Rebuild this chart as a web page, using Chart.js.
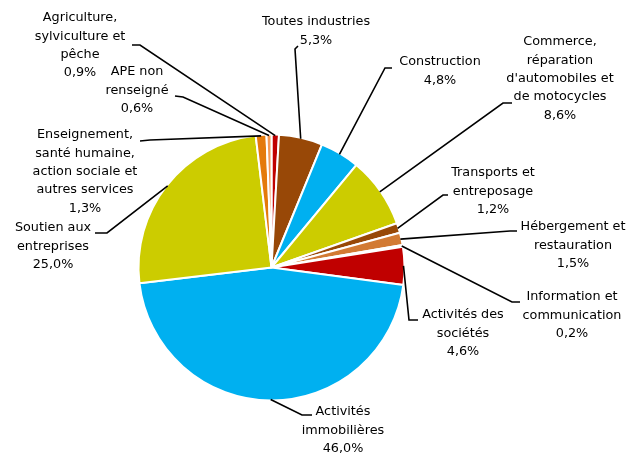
<!DOCTYPE html>
<html>
<head>
<meta charset="utf-8">
<script src="https://cdn.jsdelivr.net/npm/chart.js@4.4.1/dist/chart.umd.min.js"></script>
<style>
  body { margin: 0; background: #fff; }
  #wrap { width: 643px; height: 461px; }
</style>
</head>
<body>
<div id="wrap"><canvas id="pie" width="643" height="461"></canvas></div>
<script>
// secteurs, dans l'ordre du camembert (sens horaire depuis midi)
const categories = [
  "Agriculture, sylviculture et pêche",
  "Toutes industries",
  "Construction",
  "Commerce, réparation d'automobiles et de motocycles",
  "Transports et entreposage",
  "Hébergement et restauration",
  "Information et communication",
  "Activités des sociétés",
  "Activités immobilières",
  "Soutien aux entreprises",
  "Enseignement, santé humaine, action sociale et autres services",
  "APE non renseigné"
];
const shares = [0.9, 5.3, 4.8, 8.6, 1.2, 1.5, 0.2, 4.6, 46.0, 25.0, 1.3, 0.6];

// textes des étiquettes (coupés comme sur l'original)
const labelLines = [
  ["Agriculture,", "sylviculture et", "pêche"],
  ["Toutes industries"],
  ["Construction"],
  ["Commerce,", "réparation", "d'automobiles et", "de motocycles"],
  ["Transports et", "entreposage"],
  ["Hébergement et", "restauration"],
  ["Information et", "communication"],
  ["Activités des", "sociétés"],
  ["Activités", "immobilières"],
  ["Soutien aux", "entreprises"],
  ["Enseignement,", "santé humaine,", "action sociale et", "autres services"],
  ["APE non", "renseigné"]
];

const colors = [
  "#C00000", "#984807", "#00B0F0", "#CCCC00", "#984807", "#D27A33",
  "#F2DCDB", "#C00000", "#00B0F0", "#CCCC00", "#E47A0B", "#F59A56"
];

// placement des étiquettes : centre x, y de la 1re ligne, coudes du trait
const labelPos = [
  { x: 80,  y: 18,  path: [[140, 45], [132, 45]] },
  { x: 316, y: 22,  path: [[295, 49], [298, 46]] },
  { x: 440, y: 62,  path: [[385, 68], [392, 68]] },
  { x: 560, y: 42,  path: [[503, 103], [512, 103]] },
  { x: 493, y: 173, path: [[443, 195], [448, 195]] },
  { x: 573, y: 227, path: [[510, 231], [517, 231]] },
  { x: 572, y: 297, path: [[512, 302], [520, 302]] },
  { x: 463, y: 315, path: [[409, 320], [418, 320]] },
  { x: 343, y: 412, path: [[302, 415], [312, 415]] },
  { x: 53,  y: 228, path: [[107, 233], [95, 233]] },
  { x: 85,  y: 135, path: [[150, 140], [140, 141]] },
  { x: 137, y: 72,  path: [[183, 97], [175, 96]] }
];
const lineH = 18.3;

function fmt(v) {
  return v.toFixed(1).replace(".", ",") + "%";
}

const labelPlugin = {
  id: "pieLabels",
  afterDraw(chart) {
    const ctx = chart.ctx;
    const arcs = chart.getDatasetMeta(0).data;
    ctx.save();
    // traits de rappel
    ctx.strokeStyle = "#000";
    ctx.lineWidth = 1.6;
    arcs.forEach((arc, i) => {
      const p = arc.getProps(["x", "y", "startAngle", "endAngle", "outerRadius"], true);
      const mid = (p.startAngle + p.endAngle) / 2;
      const r = p.outerRadius - 1;
      ctx.beginPath();
      ctx.moveTo(p.x + Math.cos(mid) * r, p.y + Math.sin(mid) * r);
      labelPos[i].path.forEach((pt) => ctx.lineTo(pt[0], pt[1]));
      ctx.stroke();
    });
    // textes
    ctx.fillStyle = "#000";
    ctx.font = "12.8px 'DejaVu Sans'";
    ctx.textAlign = "center";
    ctx.textBaseline = "middle";
    labelLines.forEach((lines, i) => {
      const all = lines.concat([fmt(shares[i])]);
      all.forEach((t, k) => {
        ctx.fillText(t, labelPos[i].x, labelPos[i].y + k * lineH);
      });
    });
    ctx.restore();
  }
};

new Chart(document.getElementById("pie"), {
  type: "pie",
  data: {
    labels: categories,
    datasets: [
      {
        data: shares,
        backgroundColor: colors,
        borderColor: "#ffffff",
        borderWidth: 2
      }
    ]
  },
  options: {
    responsive: false,
    animation: false,
    radius: 133,
    layout: { padding: { left: 139, right: 239, top: 135, bottom: 61 } },
    plugins: {
      legend: { display: false },
      tooltip: { enabled: false }
    }
  },
  plugins: [labelPlugin]
});
</script>
</body>
</html>
